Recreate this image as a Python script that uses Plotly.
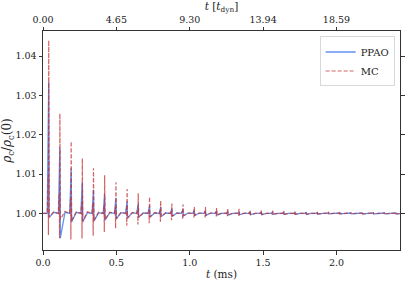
import plotly.graph_objects as go

# ---- data (central density oscillation spikes) ----
spike_t = [0.039, 0.115, 0.192, 0.268, 0.344, 0.420, 0.497, 0.573, 0.649, 0.726,
           0.802, 0.878, 0.954, 1.031, 1.107, 1.183, 1.259, 1.336, 1.412, 1.488,
           1.565, 1.641, 1.717, 1.793, 1.870, 1.946, 2.022, 2.098, 2.175, 2.251,
           2.327, 2.404]

mc_pre = [1.0093, 1.0050, 1.0040, 1.0030, 1.0025, 1.0020, 1.0016, 1.0013, 1.0011, 1.0010,
          1.0008, 1.0007, 1.0006, 1.0005, 1.0005, 1.0004, 1.0004, 1.0003, 1.0003, 1.0003,
          1.0002, 1.0002, 1.0002, 1.0002, 1.0002, 1.0001, 1.0001, 1.0001, 1.0001, 1.0001,
          1.0001, 1.0001]
mc_trough = [0.9945, 0.9937, 0.9934, 0.9936, 0.9943, 0.9953, 0.9962, 0.9969, 0.9972, 0.9975,
             0.9979, 0.9983, 0.9985, 0.9990, 0.9990, 0.9992, 0.9993, 0.9994, 0.9995, 0.9996,
             0.9996, 0.9997, 0.9997, 0.9998, 0.9998, 0.9998, 0.9998, 0.9999, 0.9999, 0.9999,
             0.9999, 0.9999]
mc_peak = [1.0440, 1.0254, 1.0183, 1.0140, 1.0115, 1.0097, 1.0079, 1.0062, 1.0051, 1.0042,
           1.0032, 1.0025, 1.0023, 1.0017, 1.0016, 1.0014, 1.0013, 1.0012, 1.0009, 1.0008,
           1.0007, 1.0006, 1.0006, 1.0005, 1.0005, 1.0004, 1.0004, 1.0003, 1.0003, 1.0003,
           1.0003, 1.0002]
mc_post = [0.9990, 0.9985, 0.9982, 0.9980, 0.9982, 0.9985, 0.9987, 0.9988, 0.9990, 0.9991,
           0.9992, 0.9993, 0.9994, 0.9995, 0.9995, 0.9996, 0.9996, 0.9997, 0.9997, 0.9997,
           0.9998, 0.9998, 0.9998, 0.9998, 0.9999, 0.9999, 0.9999, 0.9999, 0.9999, 0.9999,
           0.9999, 0.9999]
mc_mid = [1.0005, 1.0005, 1.0004, 1.0004, 1.0003, 1.0003, 1.0003, 1.0002, 1.0002, 1.0002,
          1.0002, 1.0001, 1.0001, 1.0001, 1.0001, 1.0001, 1.0001, 1.0001, 1.0000, 1.0000,
          1.0000, 1.0000, 1.0000, 1.0000, 1.0000, 1.0000, 1.0000, 1.0000, 1.0000, 1.0000,
          1.0000, 1.0000]

ppao_peak = [1.0335, 1.0168, 1.0115, 1.0080, 1.0060, 1.0049, 1.0040, 1.0031, 1.0025, 1.0020,
             1.0016, 1.0013, 1.0011, 1.0009, 1.0007, 1.0006, 1.0005, 1.0004, 1.0004, 1.0003,
             1.0003, 1.0003, 1.0002, 1.0002, 1.0002, 1.0002, 1.0001, 1.0001, 1.0001, 1.0001,
             1.0001, 1.0001]
ppao_trough = [0.9990, 0.9937, 0.9978, 0.9978, 0.9980, 0.9983, 0.9986, 0.9988, 0.9990, 0.9991,
               0.9992, 0.9993, 0.9994, 0.9995, 0.9995, 0.9996, 0.9996, 0.9997, 0.9997, 0.9997,
               0.9998, 0.9998, 0.9998, 0.9998, 0.9998, 0.9999, 0.9999, 0.9999, 0.9999, 0.9999,
               0.9999, 0.9999]
ppao_mid = [1.0003, 1.0003, 1.0003, 1.0002, 1.0002, 1.0002, 1.0002, 1.0002, 1.0001, 1.0001,
            1.0001, 1.0001, 1.0001, 1.0001, 1.0001, 1.0000, 1.0000, 1.0000, 1.0000, 1.0000,
            1.0000, 1.0000, 1.0000, 1.0000, 1.0000, 1.0000, 1.0000, 1.0000, 1.0000, 1.0000,
            1.0000, 1.0000]

x_ticks = [0.0, 0.5, 1.0, 1.5, 2.0]
x_tick_labels = ["0.0", "0.5", "1.0", "1.5", "2.0"]
top_tick_labels = ["0.00", "4.65", "9.30", "13.94", "18.59"]
y_ticks = [1.00, 1.01, 1.02, 1.03, 1.04]
y_tick_labels = ["1.00", "1.01", "1.02", "1.03", "1.04"]

# ---- shape of one spike (time offsets within a period, ms) ----
mc_offsets = [-0.010, -0.004, -0.002, 0.0, 0.003, 0.035]
ppao_offsets = [-0.010, 0.0, 0.003, 0.035]

mc_x, mc_y = [0.0], [1.0]
for i, t in enumerate(spike_t):
    vals = [1.0, mc_pre[i], mc_trough[i], mc_peak[i], mc_post[i], mc_mid[i]]
    for o, v in zip(mc_offsets, vals):
        mc_x.append(t + o)
        mc_y.append(v)
mc_x.append(2.45); mc_y.append(1.0)

pp_x, pp_y = [0.0], [1.0]
for i, t in enumerate(spike_t):
    vals = [1.0, ppao_peak[i], ppao_trough[i], ppao_mid[i]]
    for o, v in zip(ppao_offsets, vals):
        pp_x.append(t + o)
        pp_y.append(v)
pp_x.append(2.45); pp_y.append(1.0)

FONT = "DejaVu Serif"
AX = "#333333"

fig = go.Figure()
fig.add_trace(go.Scatter(x=pp_x, y=pp_y, mode="lines", name="PPAO",
                         line=dict(color="rgba(90,140,240,0.95)", width=1.3)))
fig.add_trace(go.Scatter(x=mc_x, y=mc_y, mode="lines", name="MC",
                         line=dict(color="rgba(195,45,45,0.75)", width=1.2, dash="4px,2px")))
fig.add_trace(go.Scatter(x=[0, 2.43], y=[None, None], xaxis="x2", showlegend=False,
                         hoverinfo="skip", mode="lines"))

fig.update_layout(
    width=407, height=285,
    margin=dict(l=43, r=7, t=31, b=35),
    paper_bgcolor="white", plot_bgcolor="white",
    font=dict(family=FONT, size=9.5, color="#222222"),
    showlegend=True,
    legend=dict(x=0.985, y=0.975, xanchor="right", yanchor="top",
                bgcolor="rgba(255,255,255,0.9)", bordercolor="#d8d8d8", borderwidth=1,
                font=dict(family=FONT, size=10), itemwidth=30, tracegroupgap=0),
    xaxis=dict(range=[0, 2.433], tickvals=x_ticks, ticktext=x_tick_labels, automargin=False,
               showgrid=False, zeroline=False, showline=True, linecolor=AX, linewidth=1,
               ticks="outside", ticklen=3.5, tickcolor=AX, mirror=False,
               title=dict(text="<i>t</i> (ms)", standoff=3, font=dict(size=10.5))),
    xaxis2=dict(range=[0, 2.433], tickvals=x_ticks, ticktext=top_tick_labels, automargin=False,
                overlaying="x", side="top", showgrid=False, zeroline=False,
                showline=True, linecolor=AX, linewidth=1,
                ticks="outside", ticklen=3.5, tickcolor=AX,
                title=dict(text="<i>t</i> [<i>t</i><sub>dyn</sub>]", standoff=2, font=dict(size=10.5))),
    yaxis=dict(range=[0.9907, 1.0464], tickvals=y_ticks, ticktext=y_tick_labels, automargin=False,
               showgrid=False, zeroline=False, showline=True, linecolor=AX, linewidth=1,
               ticks="outside", ticklen=3.5, tickcolor=AX, mirror="ticks",
               title=dict(text="<i>ρ</i><sub>c</sub>/<i>ρ</i><sub>c</sub>(0)", standoff=3,
                          font=dict(size=12))),
)

fig.write_html("out.html", config={"displayModeBar": False},
               post_script="document.body.style.margin='0';document.body.style.overflow='hidden';")
